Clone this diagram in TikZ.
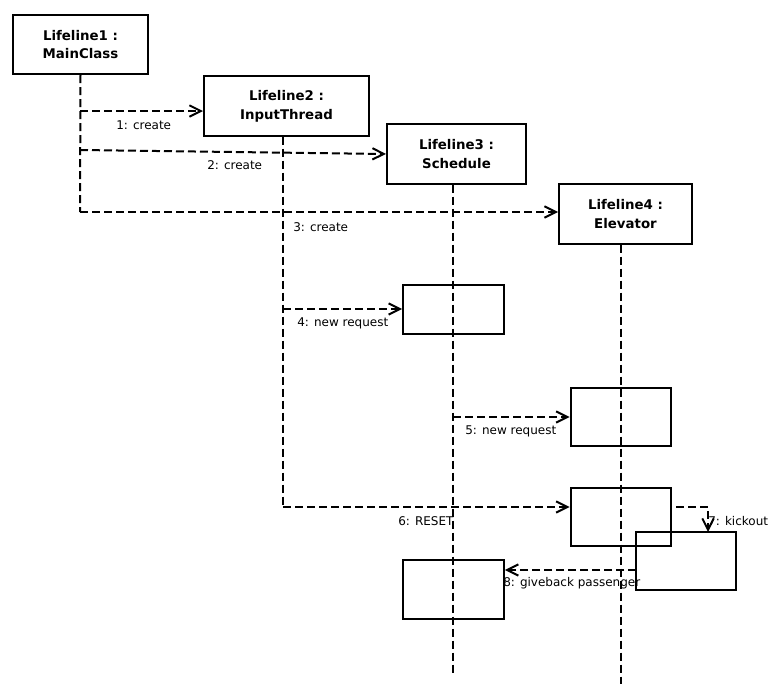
\documentclass[tikz,border=0pt]{standalone}
\usepackage{fontspec}
\setmainfont{DejaVu Sans}
\usetikzlibrary{arrows.meta,positioning}
\definecolor{ink}{HTML}{000000}
\tikzset{
  >={Straight Barb[length=8.5pt,width=8.5pt]},
  every node/.style={text=ink},
  head/.style={draw=ink,line width=1.5pt,minimum height=44.5pt,align=center,inner sep=0pt,font=\fontsize{10}{14}\selectfont\bfseries},
  act/.style={draw=ink,line width=1.5pt,minimum width=75.5pt,minimum height=43.5pt,inner sep=0pt},
  lifeline/.style={draw=ink,line width=1.5pt,dash pattern=on 6pt off 3pt},
  msg/.style={->,draw=ink,line width=1.5pt,dash pattern=on 6pt off 3pt},
  msglabel/.style={anchor=west,inner sep=0pt,font=\fontsize{9}{11}\selectfont},
}

\begin{document}
\begin{tikzpicture}[x=0.75pt,y=-0.75pt]
  \useasboundingbox (0,0) rectangle (775,696);

  \node[head,minimum width=101.25pt] (life1) at (80.5,44.5) {Lifeline1 :\\MainClass};
  \node[head,minimum width=123.75pt] (life2) at (286.5,106) {Lifeline2 :\\InputThread};
  \node[head,minimum width=104.25pt] (life3) at (456.5,154) {Lifeline3 :\\Schedule};
  \node[head,minimum width=99.75pt] (life4) at (625.5,214) {Lifeline4 :\\Elevator};

  \coordinate (end1) at (80,212);
  \coordinate (end2) at (283,507);
  \coordinate (end3) at (453,676);
  \coordinate (end4) at (621,684);
  \draw[lifeline] (life1.south) -- (end1);
  \draw[lifeline] (life2.south -| end2) -- (end2);
  \draw[lifeline] (life3.south -| end3) -- (end3);
  \draw[lifeline] (life4.south -| end4) -- (end4);

  \node[act,minimum height=36.75pt] (actA) at (453.5,309.5) {};
  \node[act] (actB) at (621,417) {};
  \node[act] (actC) at (621,517) {};
  \node[act] (actD) at (686,561) {};
  \node[act,minimum height=44.25pt] (actE) at (453.5,589.5) {};

  \coordinate (s1) at (80,111);
  \coordinate (s2) at (80,150);
  \coordinate (s4) at (283,309);
  \coordinate (s5) at (453,417);
  \coordinate (s7) at (676,507);
  \coordinate (t7) at (708,532);
  \coordinate (s8) at (636,570);
  \draw[msg] (s1) -- (s1 -| life2.west);
  \draw[msg] (s2) -- (life3.west);
  \draw[msg] (end1) -- (end1 -| life4.west);
  \draw[msg] (s4) -- (s4 -| actA.west);
  \draw[msg] (s5) -- (s5 -| actB.west);
  \draw[msg] (end2) -- (end2 -| actC.west);
  \draw[msg] (s7) -| (t7);
  \draw[msg] (s8) -- (s8 -| actE.east);

  \node[msglabel] (lbl1) at (116,125) {1: create};
  \node[msglabel] (lbl2) at (207,165) {2: create};
  \node[msglabel] (lbl3) at (293,227) {3: create};
  \node[msglabel] (lbl4) at (297,323) {4: new request};
  \node[msglabel] (lbl5) at (465,431) {5: new request};
  \node[msglabel] (lbl6) at (398,521) {6: RESET};
  \node[msglabel] (lbl7) at (708,521) {7: kickout};
  \node[msglabel] (lbl8) at (503,583) {8: giveback passenger};
\end{tikzpicture}
\end{document}
